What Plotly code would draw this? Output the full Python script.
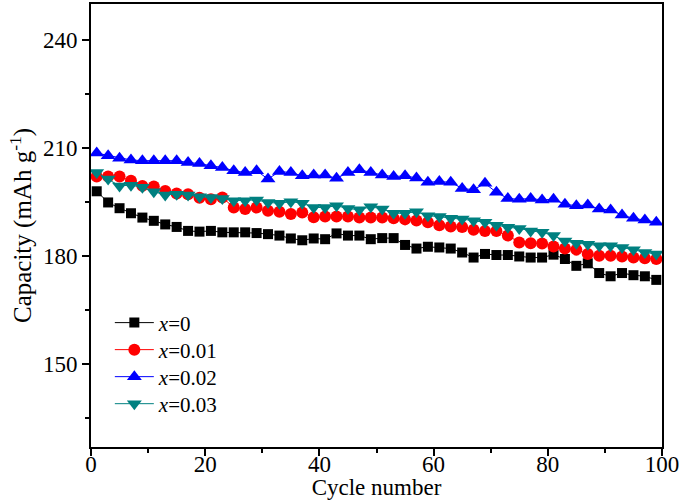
import plotly.graph_objects as go

cycles = list(range(1, 100, 2))

cap_x0 = [198.0, 194.9, 193.3, 191.9, 190.7, 189.8, 188.8, 188.1, 187.0, 186.8,
          187.0, 186.6, 186.6, 186.6, 186.4, 186.1, 185.7, 184.9, 184.4, 184.9,
          184.7, 186.3, 185.7, 185.7, 184.7, 185.0, 185.0, 183.1, 182.1, 182.6,
          182.4, 182.1, 181.0, 179.6, 180.6, 180.3, 180.3, 179.9, 179.6, 179.6,
          180.4, 179.2, 177.3, 178.0, 175.3, 174.4, 175.3, 174.7, 174.4, 173.4]

cap_x001 = [202.1, 202.1, 202.1, 200.9, 199.5, 199.3, 198.1, 197.4, 197.2, 196.2,
            195.8, 196.3, 193.5, 193.1, 193.5, 192.6, 192.3, 191.7, 192.1, 190.8,
            191.0, 191.0, 191.0, 190.7, 190.7, 190.7, 190.5, 190.2, 189.9, 189.4,
            188.6, 188.2, 188.1, 187.3, 187.0, 187.0, 185.7, 183.8, 183.6, 183.5,
            182.7, 182.1, 181.8, 180.6, 180.1, 180.1, 179.9, 179.6, 179.4, 179.2]

cap_x002 = [208.6, 207.9, 207.2, 206.7, 206.5, 206.5, 206.5, 206.5, 206.0, 205.7,
            205.1, 204.6, 203.7, 203.2, 203.7, 201.4, 203.5, 203.2, 202.3, 202.5,
            202.5, 201.6, 203.2, 204.0, 203.2, 202.5, 202.1, 202.3, 201.7, 200.5,
            200.7, 200.5, 198.8, 198.4, 200.2, 197.7, 196.0, 195.8, 196.0, 195.6,
            195.8, 194.4, 194.0, 194.2, 193.1, 192.8, 191.4, 190.5, 190.0, 189.4]

cap_x003 = [203.2, 201.4, 199.5, 199.7, 199.1, 197.9, 197.0, 197.2, 197.0, 196.5,
            196.3, 196.0, 195.4, 195.4, 195.6, 194.9, 194.7, 195.1, 194.7, 193.5,
            193.5, 194.0, 193.2, 192.9, 193.7, 193.1, 191.9, 191.9, 192.3, 191.2,
            191.0, 190.5, 190.3, 189.8, 189.4, 188.6, 188.0, 187.7, 187.0, 186.6,
            185.7, 184.2, 183.6, 183.3, 182.9, 182.9, 182.4, 181.8, 181.0, 180.6]

series = [
    ("<i>x</i>=0", cap_x0, "#000000", "square", 10, "legend"),
    ("<i>x</i>=0.01", cap_x001, "#ff0000", "circle", 12, "legend2"),
    ("<i>x</i>=0.02", cap_x002, "#0000ff", "triangle-up", 13, "legend3"),
    ("<i>x</i>=0.03", cap_x003, "#008080", "triangle-down", 13, "legend4"),
]

FONT = "Liberation Serif, Times New Roman, serif"

fig = go.Figure()
for name, values, color, symbol, size, legend in series:
    fig.add_trace(go.Scatter(
        x=cycles, y=values, name=name, mode="lines+markers",
        line={"color": color, "width": 1},
        marker={"symbol": symbol, "size": size, "color": color},
        legend=legend,
    ))

axis_common = dict(
    showline=True, linecolor="black", linewidth=2, mirror=True,
    ticks="outside", ticklen=7, tickwidth=2, tickcolor="black",
    showgrid=False, zeroline=False,
    tickfont={"family": FONT, "size": 23, "color": "black"},
)

fig.update_xaxes(
    range=[0, 100], dtick=20, tick0=0, ticklabelstandoff=-12,
    minor={"dtick": 10, "ticks": "outside", "ticklen": 4, "tickwidth": 2, "tickcolor": "black"},
    title={"text": "Cycle number", "font": {"family": FONT, "size": 23, "color": "black"}, "standoff": 0},
    **axis_common,
)
fig.update_yaxes(
    range=[127, 250], tickvals=[150, 180, 210, 240],
    minor={"tickvals": [135, 165, 195, 225], "ticks": "outside", "ticklen": 4, "tickwidth": 2, "tickcolor": "black"},
    title={"text": "Capacity (mAh g<sup>-1</sup>)", "font": {"family": FONT, "size": 25, "color": "black"}, "standoff": 4},
    **axis_common,
)

legend_style = {"x": 0.033, "xanchor": "left", "yanchor": "middle",
                "bgcolor": "rgba(0,0,0,0)", "itemwidth": 39,
                "font": {"family": FONT, "size": 21, "color": "black"}}

fig.update_layout(
    width=685, height=500,
    margin={"l": 91, "r": 23, "t": 4, "b": 53, "autoexpand": False},
    paper_bgcolor="white", plot_bgcolor="white",
    font={"family": FONT, "size": 23, "color": "black"},
    legend={**legend_style, "y": 0.280},
    legend2={**legend_style, "y": 0.219},
    legend3={**legend_style, "y": 0.158},
    legend4={**legend_style, "y": 0.097},
    showlegend=True,
)

fig.write_html("out.html", config={"displayModeBar": False},
               post_script="document.body.style.margin='0';")
